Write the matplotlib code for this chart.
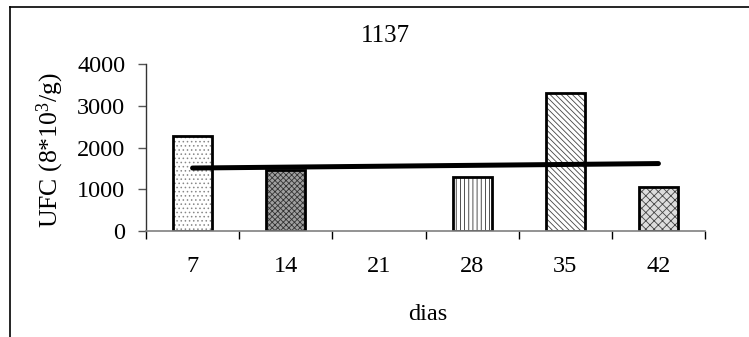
import matplotlib
matplotlib.use("Agg")
import matplotlib.pyplot as plt
import numpy as np
from matplotlib.lines import Line2D

categories = ["7", "14", "21", "28", "35", "42"]
values = [2270, 1450, 0, 1300, 3300, 1050]
yticks = [0, 1000, 2000, 3000, 4000]
hatches = ["....", "xxxxxx", "", "||||", "\\\\\\\\\\\\", "xxxx"]
hatch_colors = ["#888888", "#333333", "black", "#333333", "#444444", "#444444"]
faces = ["white", "#a0a0a0", "white", "white", "white", "#dddddd"]

plt.rcParams["font.family"] = ["Liberation Serif", "DejaVu Serif"]
plt.rcParams["mathtext.fontset"] = "custom"
plt.rcParams["mathtext.rm"] = "Liberation Serif"
plt.rcParams["mathtext.it"] = "Liberation Serif:italic"
plt.rcParams["hatch.linewidth"] = 0.6
FS = 17.5

W, H = 749, 337
fig = plt.figure(figsize=(W / 100, H / 100), dpi=100)
ax = fig.add_axes([146 / W, 1 - 231 / H, (705 - 146) / W, (231 - 64) / H])

x = np.arange(len(categories)) + 0.5
for xi, v, h, hc, fc in zip(x, values, hatches, hatch_colors, faces):
    if v <= 0:
        continue
    ax.bar(xi, v, width=0.42, color=fc, edgecolor=hc, linewidth=0,
           hatch=h, zorder=2)
    ax.bar(xi, v, width=0.42, facecolor="none", edgecolor="black",
           linewidth=2.0, zorder=2.5)

# linear trend line
idx = np.arange(1, len(values) + 1)
coef = np.polyfit(idx, values, 1)
trend = np.polyval(coef, idx)
ax.plot(x, trend, color="black", linewidth=3.6, solid_capstyle="round", zorder=3)

ax.set_xlim(0, len(categories))
ax.set_ylim(0, 4000)
ax.set_yticks(yticks)
ax.set_yticklabels([str(t) for t in yticks], fontsize=FS)
ax.set_xticks(np.arange(len(categories) + 1))
ax.set_xticklabels([])
ax.set_xticks(x, minor=True)
ax.set_xticklabels(categories, minor=True, fontsize=FS)
ax.tick_params(axis="x", which="minor", length=0, pad=18)
ax.tick_params(axis="x", which="major", length=6, width=1, color="black", direction="out")
ax.tick_params(axis="y", length=6, width=1, color="#555555", direction="out", pad=9)

for s in ["top", "right"]:
    ax.spines[s].set_visible(False)
ax.spines["bottom"].set_color("#808080")
ax.spines["bottom"].set_linewidth(1.2)
ax.spines["left"].set_color("#333333")
ax.spines["left"].set_linewidth(1.0)

fig.text(385 / W, 1 - 36 / H, "1137", ha="center", va="center", fontsize=18)
fig.text(50 / W, 1 - 150 / H, r"UFC (8*10$^\mathrm{3}$/g)", ha="center", va="center",
         rotation=90, fontsize=18.5)
fig.text(428 / W, 1 - 315 / H, "dias", ha="center", va="center", fontsize=FS)

# outer frame (top and left edges visible)
fig.add_artist(Line2D([10 / W, 1.0], [1 - 7 / H, 1 - 7 / H], color="black",
                      linewidth=1.2, transform=fig.transFigure))
fig.add_artist(Line2D([10 / W, 10 / W], [0.0, 1 - 7 / H], color="black",
                      linewidth=1.2, transform=fig.transFigure))

fig.savefig("out.png", dpi=100)
